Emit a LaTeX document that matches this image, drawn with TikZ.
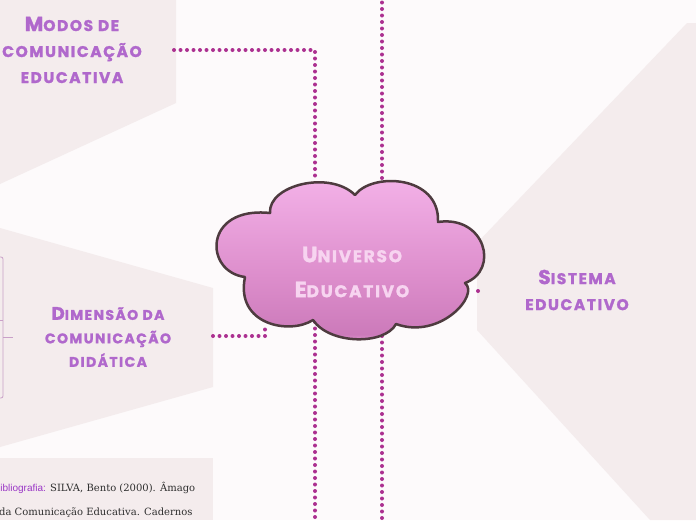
\documentclass[tikz,border=0pt]{standalone}
\usepackage{fontspec}
\usepackage{graphicx}
\newfontfamily\decofont[LetterSpace=10,BoldFeatures={FakeBold=1.3}]{Poppins}
\newfontfamily\slabfont{DejaVu Serif}
\newfontfamily\biblabelfont{Liberation Sans}
\definecolor{pagebg}{RGB}{253,250,251}
\definecolor{panelbg}{RGB}{244,236,237}
\definecolor{labelpurple}{RGB}{176,104,204}
\definecolor{dotmagenta}{RGB}{172,48,144}
\definecolor{cloudedge}{RGB}{78,59,63}
\definecolor{cloudtext}{RGB}{247,212,240}
\definecolor{bracketc}{RGB}{201,160,200}
\definecolor{biblabel}{RGB}{154,55,198}
\definecolor{bibtext}{RGB}{46,46,46}
\definecolor{pinktop}{RGB}{245,180,234}
\definecolor{pinkmid}{RGB}{221,142,204}
\definecolor{pinklow}{RGB}{204,122,186}
\definecolor{pinkbot}{RGB}{242,170,226}
\pgfdeclareverticalshading{cloudshade}{100bp}{color(0bp)=(pinkbot); color(25bp)=(pinkbot); color(28bp)=(pinklow); color(45bp)=(pinkmid); color(75bp)=(pinktop); color(100bp)=(pinktop)}
\newcommand\bigini[1]{\scalebox{1.3}{#1}}
\tikzset{
  topic/.style={text=labelpurple, align=center, inner sep=0pt,
    font=\decofont\bfseries\fontsize{15.5}{26}\selectfont},
  subtopic/.style={topic, font=\decofont\bfseries\fontsize{14}{23.5}\selectfont},
  central/.style={text=cloudtext, align=center, inner sep=0pt,
    font=\decofont\bfseries\fontsize{17}{35}\selectfont},
  dotline/.style={draw=dotmagenta, line width=4, line cap=round, dash pattern=on 0pt off 6.5pt},
  panel/.style={fill=panelbg, draw=none},
  bracketline/.style={draw=bracketc, line width=0.8},
  bibline/.style={anchor=base west, inner sep=0pt, text=bibtext,
    font=\slabfont\fontsize{10}{24}\selectfont},
}
\begin{document}
\begin{tikzpicture}[x=1pt,y=-1pt]
    \useasboundingbox (0,0) rectangle (696,520);
    \clip (0,0) rectangle (696,520);
    \fill[pagebg] (0,0) rectangle (696,520);

    % panels
    \fill[panel] (0,0) -- (176,0) -- (176,103) -- (0,184) -- cycle;
    \fill[panel] (0,228) -- (213,288) -- (213,387) -- (0,447) -- cycle;
    \fill[panel] (0,458) rectangle (213,520);
    \fill[panel] (477,243) -- (687,23) -- (696,23) -- (696,520) -- (650,520) -- (477,330) -- cycle;

    % attach points
    \coordinate (modosR) at (174,50);
    \coordinate (cloudTL) at (315,182);
    \coordinate (topE) at (382,-4);
    \coordinate (cloudTR) at (382,182);
    \coordinate (dimR) at (213,336);
    \coordinate (cloudBL) at (265,325);
    \coordinate (cloudR) at (478,291);
    \coordinate (sisL) at (479,291);
    \coordinate (cloudB1) at (315,322);
    \coordinate (botE1) at (315,524);
    \coordinate (cloudB2) at (382,336);
    \coordinate (botE2) at (382,524);
    \coordinate (brTop) at (-3,257);
    \coordinate (brBot) at (-3,398);
    \coordinate (brMid) at (3,337);
    \coordinate (dimL) at (13,337);

    % bracket on the left
    \draw[bracketline, rounded corners=2] (brTop) -- (3,257) -- (3,398) -- (brBot);
    \draw[bracketline] (0,320) -- (3,320);
    \draw[bracketline] (brMid) -- (dimL);

    % connectors
    \draw[dotline] (modosR) -| (cloudTL);
    \draw[dotline] (topE) -- (cloudTR);
    \draw[dotline] (dimR) -| (cloudBL);
    \draw[dotline] (cloudR) -- (sisL);
    \draw[dotline] (cloudB1) -- (botE1);
    \draw[dotline] (cloudB2) -- (botE2);

    % cloud
    \path[shading=cloudshade, draw=cloudedge, line width=2.5, line join=round]
      (245,277) .. controls (204,272) and (203,206) .. (270,213)
      .. controls (268,185) and (330,170) .. (355,195)
      .. controls (372,172) and (440,175) .. (438,222)
      .. controls (485,215) and (500,270) .. (465,283)
      .. controls (480,295) and (440,340) .. (396,324)
      .. controls (385,345) and (330,345) .. (313,320)
      .. controls (290,335) and (235,325) .. (245,277) -- cycle;

    % texts
    \node[central] (universo) at (352,272) {\bigini{U}NIVERSO\\\bigini{E}DUCATIVO};
    \node[topic] (modos) at (72,50) {\bigini{M}ODOS DE\\COMUNICAÇÃO\\EDUCATIVA};
    \node[subtopic] (dimensao) at (108,337) {\bigini{D}IMENSÃO DA\\COMUNICAÇÃO\\DIDÁTICA};
    \node[topic] (sistema) at (577,290) {\bigini{S}ISTEMA\\EDUCATIVO};
    \node[bibline] (biblio1) at (-6.5,491) {{\biblabelfont\color{biblabel}Bibliografia:} SILVA, Bento (2000). Âmago};
    \node[bibline] (biblio2) at (-1,515) {da Comunicação Educativa. Cadernos};
\end{tikzpicture}
\end{document}
